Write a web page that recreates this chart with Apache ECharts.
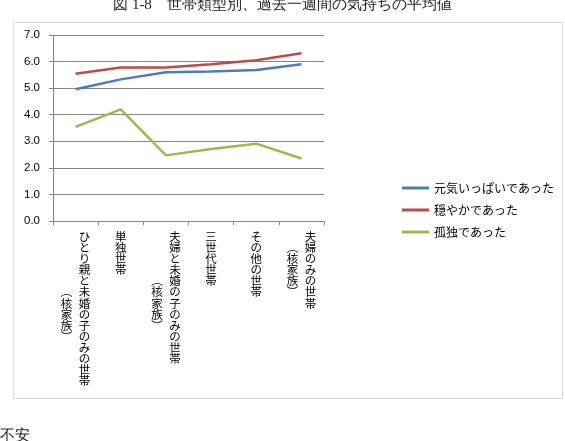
<!DOCTYPE html>
<html lang="ja">
<head>
<meta charset="UTF-8">
<title>世帯類型別、過去一週間の気持ちの平均値</title>
<script src="https://cdn.jsdelivr.net/npm/echarts@6/dist/echarts.min.js"></script>
<style>
  html, body { margin: 0; padding: 0; background: #fff; }
  #main { width: 565px; height: 441px; }
</style>
</head>
<body>
<div id="main"></div>
<script>
// categories and the second (left) column of each vertical label
const categories = ['ひとり親と未婚の子のみの世帯', '単独世帯', '夫婦と未婚の子のみの世帯', '三世代世帯', 'その他の世帯', '夫婦のみの世帯'];
const subLabels = ['（核家族）', '', '（核家族）', '', '', '（核家族）'];

const seriesNames = ['元気いっぱいであった', '穏やかであった', '孤独であった'];
const genki = [4.96, 5.33, 5.60, 5.63, 5.68, 5.90];
const odayaka = [5.54, 5.78, 5.78, 5.90, 6.05, 6.31];
const kodoku = [3.54, 4.20, 2.47, 2.71, 2.91, 2.35];
const seriesColors = ['#4A7EBB', '#BE4B48', '#98B954'];

const yMin = 0, yMax = 7, yStep = 1;

const FONT = '"Noto Sans CJK JP", "Noto Sans", sans-serif';

// build upright vertical text, sub column to the left and centred on the main one
function verticalLabel(value, idx) {
    const main = Array.from(value);
    const sub = Array.from(subLabels[idx].replace('（', '︵').replace('）', '︶'));
    const start = Math.round((main.length - sub.length) / 2);
    return main.map(function (ch, i) {
        if (!sub.length) return '{m|' + ch + '}';
        const s = sub[i - start];
        return '{p|' + (s || '\u3000') + '}{m|' + ch + '}';
    }).join('\n');
}

const chart = echarts.init(document.getElementById('main'));

const colStyle = { fontSize: 11.5, lineHeight: 11.1, width: 18, align: 'center', color: '#000', fontFamily: FONT };

chart.setOption({
    animation: false,
    backgroundColor: '#fff',
    title: {
        text: '図 1-8　世帯類型別、過去一週間の気持ちの平均値',
        left: 'center',
        top: -7,
        textStyle: { fontSize: 15, fontWeight: 'normal', color: '#222', fontFamily: 'serif' }
    },
    graphic: [
        {
            type: 'rect',
            shape: { x: 13.5, y: 22.5, width: 549, height: 376 },
            style: { fill: 'none', stroke: '#d9d9d9', lineWidth: 1 },
            z: -1
        },
        {
            type: 'text',
            left: 0,
            top: 429,
            style: { text: '不安', fontSize: 15, fill: '#222', fontFamily: 'serif' }
        }
    ],
    legend: {
        orient: 'vertical',
        left: 397,
        top: 177,
        icon: 'rect',
        itemWidth: 27,
        itemHeight: 3,
        itemGap: 10,
        data: seriesNames,
        textStyle: { fontSize: 12, color: '#000', fontFamily: FONT }
    },
    grid: { left: 53, right: 241, top: 35, bottom: 220 },
    xAxis: {
        type: 'category',
        data: categories,
        boundaryGap: true,
        axisLine: { lineStyle: { color: '#868686', width: 1 } },
        axisTick: { show: true, length: 4, alignWithLabel: false, lineStyle: { color: '#868686' } },
        axisLabel: {
            interval: 0,
            margin: 10,
            formatter: verticalLabel,
            rich: { m: colStyle, p: colStyle }
        }
    },
    yAxis: {
        type: 'value',
        min: yMin,
        max: yMax,
        interval: yStep,
        axisLine: { show: true, lineStyle: { color: '#868686', width: 1 } },
        axisTick: { show: true, length: 4, lineStyle: { color: '#868686' } },
        axisLabel: {
            margin: 13,
            fontSize: 11.5,
            color: '#000',
            fontFamily: '"Liberation Sans", Arial, sans-serif',
            formatter: function (v) { return v.toFixed(1); }
        },
        splitLine: { show: true, lineStyle: { color: '#868686', width: 1 } }
    },
    series: [
        { name: seriesNames[0], type: 'line', data: genki },
        { name: seriesNames[1], type: 'line', data: odayaka },
        { name: seriesNames[2], type: 'line', data: kodoku }
    ].map(function (s, i) {
        return Object.assign(s, {
            symbol: 'none',
            color: seriesColors[i],
            lineStyle: { width: 2.5, color: seriesColors[i] }
        });
    })
});

window.addEventListener('resize', function () { chart.resize(); });
</script>
</body>
</html>
